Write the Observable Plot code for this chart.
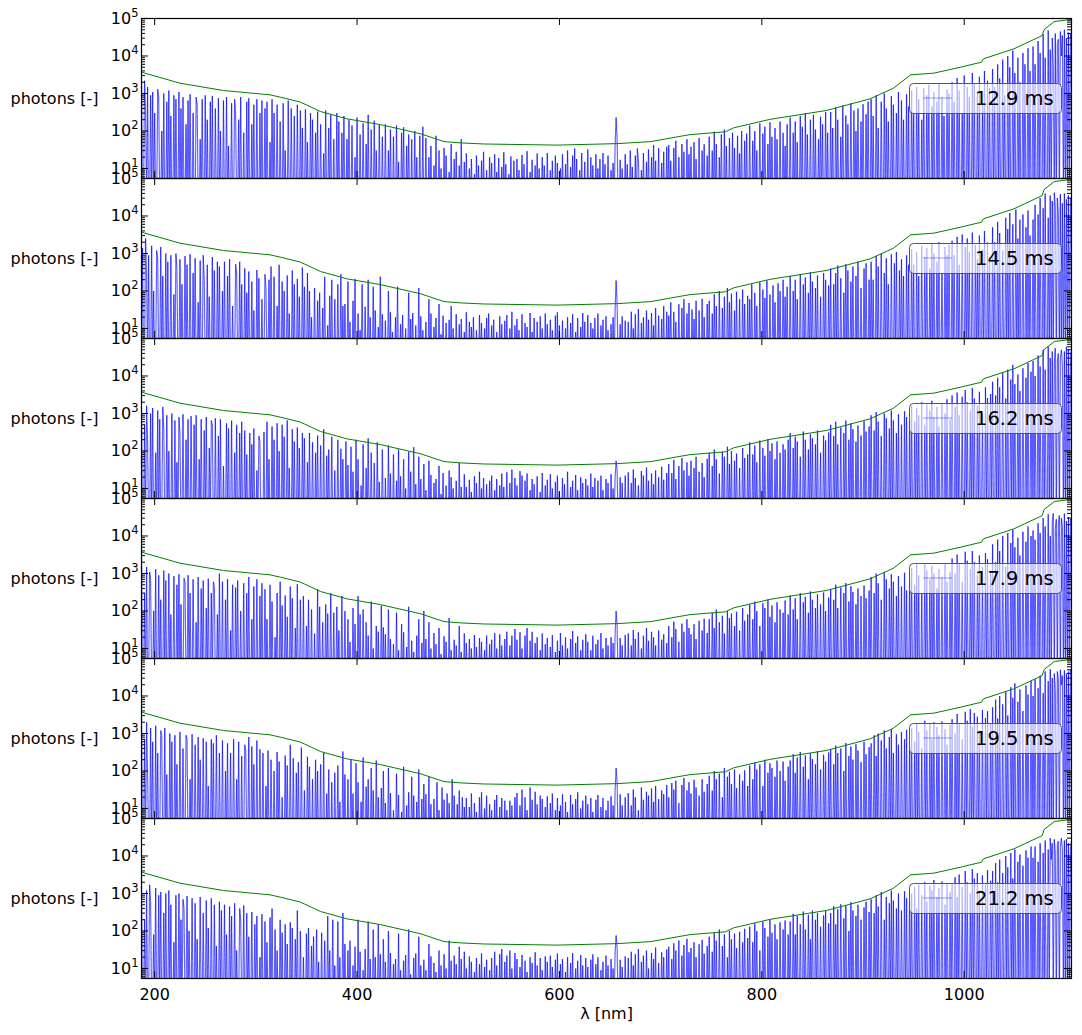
<!DOCTYPE html>
<html><head><meta charset="utf-8">
<script src="https://cdn.jsdelivr.net/npm/d3@7"></script>
<script src="https://cdn.jsdelivr.net/npm/@observablehq/plot@0.6"></script>
<style>
body{margin:0;background:#fff;}
#chart{position:relative;width:1082px;height:1035px;font-family:"DejaVu Sans";}
#chart svg{position:absolute;left:0;overflow:visible;}
</style></head><body><div id="chart"></div>
<script>
// exposure time of each panel (legend labels)
const exposures = ["12.9 ms","14.5 ms","16.2 ms","17.9 ms","19.5 ms","21.2 ms"];
// wavelength grid of the spectra (nm): 187, 188, ... 1106
const lambdaStart = 187, lambdaStep = 1;
// photon counts (0 = at / below the bottom of the axis)
const photons129 = [
2000,0,0,2200,400,0,1500,0,0,900,0,1100,0,300,0,0,1300,800,0,0,100,0,1000,0,0,600,0,1200,0,250,0,0,900,0,700,0,0,1100,0,400,
0,800,0,0,150,0,650,0,950,0,0,300,0,0,800,500,0,0,60,0,700,0,0,900,0,200,0,0,600,0,850,0,0,400,0,0,750,0,100,0,
0,650,0,0,800,0,40,0,0,550,0,0,700,300,0,0,200,0,800,0,0,90,0,0,600,0,750,0,0,150,0,500,0,0,700,0,0,300,0,650,
0,0,400,0,600,0,0,50,0,700,0,300,0,0,500,0,0,180,0,0,550,0,30,0,0,650,0,0,400,0,0,250,0,0,500,0,0,350,0,120,
0,0,380,0,50,0,0,300,0,200,0,0,90,0,330,0,0,150,0,0,25,0,350,0,0,120,0,270,0,0,60,0,0,300,0,180,0,0,90,0,
250,0,0,60,0,200,0,0,140,0,0,20,0,230,0,0,80,0,0,160,0,0,45,0,270,0,0,110,0,0,190,0,30,0,0,150,0,0,70,0,
0,150,0,0,30,0,110,0,0,70,0,0,140,0,15,0,0,90,0,125,0,0,40,0,80,0,0,60,0,0,100,0,20,0,0,75,0,0,130,0,
0,65,0,0,20,0,40,0,0,12,0,75,0,0,30,0,10,0,0,35,0,22,0,0,8,0,45,0,0,18,0,28,0,0,12,0,60,0,0,15,
0,25,0,0,10,0,18,0,0,7,0,22,0,12,0,0,16,0,28,0,0,9,0,0,20,0,14,0,0,24,0,8,0,19,0,0,11,0,27,0,
13,0,0,7,0,21,0,0,16,0,0,18,0,9,0,0,23,0,13,0,0,29,0,0,8,0,17,0,0,12,0,25,0,10,0,0,20,0,12,0,
0,26,0,0,9,0,16,0,0,22,0,14,0,0,10,0,24,0,0,13,0,30,0,0,11,0,22,0,34,0,18,0,0,9,0,26,0,0,15,0,
0,32,0,0,20,0,12,0,0,24,0,10,0,18,0,0,26,0,13,0,0,22,0,0,9,0,14,0,40,230,60,0,0,17,0,10,0,0,24,0,
13,0,0,30,0,11,0,0,22,0,34,18,0,0,9,0,26,0,0,15,0,32,0,0,20,0,42,0,16,0,0,35,0,0,14,0,28,0,0,38,
0,42,0,16,0,0,35,0,55,0,0,20,0,0,45,0,28,0,0,60,0,24,0,38,0,0,50,0,18,0,0,65,0,0,30,0,44,0,0,22,
0,70,0,0,30,0,95,0,45,0,0,20,0,80,0,0,110,0,40,0,0,65,0,0,90,0,35,0,0,75,0,25,0,100,0,0,55,0,85,0,
0,140,0,0,55,0,100,0,30,0,0,160,0,0,85,0,130,0,0,45,0,170,0,70,0,0,120,0,60,0,0,180,0,0,90,0,40,0,150,0,
0,230,0,0,90,0,180,0,50,0,0,250,0,130,0,0,300,0,80,0,0,200,0,0,270,0,110,0,0,60,0,240,0,150,0,0,320,0,90,0,
0,320,0,120,0,0,420,0,200,0,0,70,0,480,0,0,260,0,150,0,0,550,0,0,350,0,100,0,400,0,0,180,0,520,0,0,280,0,600,0,
0,700,0,250,0,0,900,0,120,0,0,600,0,0,1000,0,400,0,180,0,0,850,0,500,0,0,300,0,1100,0,0,650,0,200,0,0,950,0,450,0,
0,1200,0,300,0,0,1500,0,700,0,0,200,0,1400,0,0,900,0,1700,0,0,450,0,1100,0,0,600,0,1900,0,0,800,0,250,0,0,1300,0,1000,0,
0,2000,0,600,0,0,2600,0,1200,0,0,300,0,3000,0,0,1500,0,800,0,0,3500,0,1800,0,0,1000,0,2800,0,0,500,0,4000,0,0,2200,0,1400,0,
0,4500,0,1500,0,0,6000,0,2500,0,0,8000,0,900,0,0,10000,0,5000,0,0,14000,0,3500,0,0,9000,0,2000,0,0,12000,0,6000,0,0,16000,0,4000,0,
0,18000,0,6000,0,0,25000,0,12000,0,0,38000,0,9000,0,0,48000,0,15000,0,30000,5000,0,40000,0,20000,28000,0,45000,10000,35000,0,50000,0,30000,0,42000,0,38000,30000];
const photons145 = [
0,1400,0,0,2500,300,0,900,0,0,1600,0,100,0,0,1200,700,0,0,1500,0,250,0,0,1000,0,600,0,0,900,0,0,80,0,1000,400,0,0,700,0,
150,0,0,850,0,500,0,0,950,0,0,300,0,750,0,0,50,0,650,0,0,900,200,0,0,500,0,70,0,0,800,0,350,0,0,600,0,450,0,0,
100,0,600,0,0,250,0,700,0,0,40,0,0,520,300,0,0,600,0,150,0,0,400,0,90,0,330,0,0,180,0,30,0,0,360,0,220,0,0,60,
0,0,280,120,0,0,200,0,450,0,0,240,0,0,40,0,500,0,0,180,0,100,0,0,260,0,25,0,0,350,0,150,0,0,210,0,70,0,0,420,
0,130,0,0,300,0,100,0,20,0,0,120,0,0,55,0,90,0,0,35,0,240,0,0,12,0,75,0,200,0,0,60,0,0,150,0,0,280,0,40,
0,45,0,0,180,0,15,0,0,55,0,210,0,0,25,0,9,0,150,0,0,38,0,0,200,0,20,0,0,130,0,30,0,0,11,0,240,0,24,0,
0,16,0,0,100,0,27,0,8,0,0,20,0,130,0,0,13,0,23,0,0,10,0,0,90,0,18,0,26,0,0,12,0,0,120,0,21,0,9,0,
0,15,0,0,60,0,25,0,0,11,0,19,0,0,45,0,7,0,22,0,0,14,0,0,17,0,40,0,10,0,0,24,0,0,13,0,18,0,0,8,
0,27,0,0,15,0,11,0,20,0,0,9,0,0,23,0,14,0,0,10,0,19,0,25,0,0,12,0,17,0,0,8,0,0,21,0,13,0,0,16,
0,23,0,0,10,0,28,0,0,12,0,18,0,9,0,0,24,0,0,14,0,11,0,0,26,0,8,0,19,0,0,15,0,0,21,0,10,0,0,25,
0,13,0,0,17,0,9,0,0,22,0,27,0,12,0,0,16,0,0,10,0,20,0,0,14,0,24,0,0,8,0,19,0,0,11,0,26,0,15,0,
0,23,0,0,14,0,10,0,19,0,0,25,0,0,12,0,17,0,0,21,0,9,0,0,13,0,20,0,30,190,45,0,0,13,0,21,0,0,16,0,
0,15,0,0,28,0,10,0,24,0,0,33,0,0,14,0,20,0,0,30,0,17,0,0,26,0,12,0,35,0,0,22,0,0,18,0,40,0,0,28,
0,22,0,50,0,0,28,0,15,0,0,44,0,0,35,0,60,0,0,25,0,48,0,0,32,0,18,0,55,0,0,30,0,0,62,0,20,0,0,45,
0,55,0,0,25,0,80,0,40,0,0,100,0,0,35,0,70,0,0,120,0,50,0,85,0,0,30,0,95,0,0,60,0,0,110,0,45,0,0,75,
0,60,0,150,0,0,90,0,40,0,0,170,0,0,110,0,65,0,190,0,0,80,0,0,140,0,50,0,0,160,0,100,0,0,200,0,70,0,130,0,
0,250,0,0,100,0,200,0,60,0,0,280,0,0,150,0,230,0,0,90,0,320,0,180,0,0,120,0,260,0,0,70,0,0,300,0,200,0,0,140,
0,400,0,0,150,0,300,0,480,0,0,220,0,0,90,0,520,0,350,0,0,180,0,450,0,0,250,0,600,0,0,120,0,0,400,0,550,0,0,200,
0,600,0,200,0,0,850,0,450,0,0,1000,0,0,300,0,750,0,150,0,0,950,0,0,550,0,1100,0,0,350,0,700,0,250,0,0,900,0,500,0,
0,1300,0,500,0,0,1100,0,250,0,0,1600,0,0,800,0,1400,0,0,400,0,1800,0,1000,0,0,600,0,2000,0,0,300,0,0,1500,0,900,0,1700,0,
0,2200,0,900,0,0,2800,0,500,0,0,3200,0,0,1500,0,2500,0,1100,0,0,3600,0,0,1700,0,700,0,3000,0,0,1300,0,4000,0,0,2000,0,800,0,
0,5000,0,2000,0,0,7000,0,3500,0,0,1200,0,0,9000,0,4500,0,12000,0,0,6000,0,0,15000,0,2500,0,8000,0,0,11000,0,0,5000,0,14000,0,3000,0,
0,8000,0,20000,0,0,11000,0,30000,0,0,16000,0,40000,0,0,9000,0,35000,0,25000,0,42000,18000,0,30000,12000,0,38000,0,22000,0,40000,0,28000,0,35000,0,30000,26000];
const photons162 = [
1300,0,0,500,0,1600,200,0,0,1000,0,1400,0,0,90,0,1200,0,700,0,0,1500,400,0,0,900,0,100,0,0,1000,0,0,650,0,50,0,800,300,0,
0,950,0,0,200,0,700,0,0,850,0,0,500,0,900,0,0,60,0,700,0,0,350,0,800,0,0,120,0,650,500,0,0,750,0,0,250,0,700,0,
0,40,0,0,550,0,400,0,0,650,0,0,90,0,500,0,0,300,0,600,0,0,350,0,80,0,0,300,0,150,0,400,0,0,30,0,250,180,0,0,
0,320,0,0,600,0,60,0,0,450,0,200,0,0,550,0,100,0,0,500,0,240,0,0,650,0,35,0,0,380,0,180,0,0,420,0,120,0,0,300,
0,220,0,0,50,0,300,0,0,170,0,0,90,0,260,0,0,140,0,0,380,0,0,75,0,110,0,0,240,0,0,30,0,0,200,0,0,115,0,60,
0,0,180,0,42,0,0,130,0,28,0,0,200,0,60,0,0,12,0,150,0,0,35,0,220,0,0,90,0,0,48,0,0,170,0,15,0,0,110,0,
0,19,0,0,140,0,25,0,0,80,0,0,16,0,110,0,21,0,0,60,0,10,0,0,95,0,28,0,0,125,0,13,0,0,70,0,18,0,0,45,
0,9,0,0,55,0,23,0,0,14,0,18,0,0,40,0,7,0,26,0,0,12,0,0,30,0,20,0,10,0,0,16,0,0,48,0,11,0,0,24,
0,11,0,0,17,0,8,0,0,21,0,14,0,0,28,0,10,0,19,0,0,13,0,0,16,0,22,0,0,9,0,18,0,0,12,0,25,0,11,0,
0,27,0,0,14,0,32,0,0,19,0,12,0,0,29,0,22,0,0,16,0,25,0,0,9,0,18,0,13,0,0,21,0,0,8,0,26,0,0,12,
0,17,0,0,24,0,10,0,0,15,0,22,0,8,0,0,19,0,13,0,0,28,0,0,11,0,16,0,0,23,0,9,0,0,20,0,14,0,0,18,
0,12,0,0,25,0,11,0,19,0,0,16,0,0,22,0,9,0,0,18,0,14,0,0,24,0,10,0,20,55,30,0,0,20,0,14,0,0,22,0,
0,27,0,0,14,0,32,0,19,0,0,12,0,0,29,0,22,0,0,36,0,16,0,0,25,0,13,0,30,0,0,20,0,0,38,0,17,0,0,26,
0,45,0,0,26,0,58,0,18,0,0,40,0,0,65,0,30,0,0,50,0,22,0,55,0,0,35,0,70,0,0,28,0,0,48,0,20,0,0,62,
0,90,0,0,40,0,110,0,60,0,0,25,0,0,95,0,70,0,0,130,0,45,0,100,0,0,55,0,85,0,0,35,0,0,120,0,65,0,0,80,
0,170,0,0,80,0,140,0,50,0,0,190,0,0,120,0,75,0,0,210,0,100,0,160,0,0,60,0,180,0,0,90,0,0,150,0,110,0,0,200,
0,300,0,0,120,0,240,0,180,0,0,70,0,0,330,0,200,0,0,110,0,280,0,220,0,0,150,0,350,0,0,90,0,0,260,0,190,0,0,310,
0,500,0,0,250,0,600,0,150,0,0,420,0,0,300,0,650,0,0,200,0,550,0,380,0,0,180,0,480,0,0,260,0,0,620,0,330,0,0,450,
0,900,0,0,350,0,1100,0,600,0,0,250,0,0,1000,0,750,0,0,400,0,1200,0,650,0,0,300,0,950,0,0,500,0,0,1150,0,800,0,0,700,
0,1600,0,0,600,0,1400,0,900,0,0,2000,0,0,500,0,1700,0,0,1200,0,2200,0,800,0,0,1500,0,450,0,0,1900,0,0,1000,0,2400,0,0,700,
0,3000,0,0,1500,0,3600,0,900,0,0,2800,0,0,4200,0,2000,0,0,1200,0,4800,0,2500,0,0,1600,0,3800,0,0,1000,0,0,5000,0,2600,0,0,3300,
0,7000,0,0,3000,0,9000,0,5000,0,0,12000,0,0,2500,0,15000,0,0,8000,0,20000,0,6000,0,0,11000,0,4000,0,0,16000,0,0,9000,0,22000,0,0,13000,
0,25000,0,10000,0,0,35000,0,18000,0,0,50000,0,15000,0,0,60000,0,30000,0,45000,0,20000,55000,0,25000,40000,0,30000,50000,20000,0,45000,0,60000,0,50000,0,40000,45000];
const photons179 = [
4800,0,0,300,0,1500,0,0,1100,700,0,0,100,0,1300,0,0,900,0,200,0,0,1200,0,650,0,0,1000,0,80,0,0,850,0,0,500,0,950,0,150,
0,0,750,600,0,0,900,0,300,0,0,700,0,0,50,0,800,0,0,400,0,650,0,0,120,0,720,0,0,300,0,600,450,0,0,80,0,1000,0,0,
600,0,0,200,0,700,0,0,30,0,500,0,0,420,0,650,0,0,100,0,0,550,0,0,300,0,800,0,0,60,0,450,0,0,700,0,0,250,0,550,
0,0,380,0,60,0,0,500,0,180,0,0,20,0,300,0,0,600,0,140,0,0,260,0,70,0,0,450,0,220,0,0,35,0,520,0,0,200,0,0,
250,0,0,40,0,200,0,0,110,0,0,25,0,0,380,0,130,0,0,50,0,0,150,0,85,0,0,300,0,0,90,0,0,130,0,30,0,0,250,0,
0,100,0,0,60,0,15,0,0,120,0,45,0,0,250,0,80,0,0,110,0,0,50,0,22,0,0,180,0,10,0,0,40,0,28,0,0,140,0,36,
0,24,0,0,110,0,18,0,0,13,0,0,90,0,9,0,0,45,0,27,0,0,11,0,130,0,0,16,0,8,0,0,22,0,60,0,0,14,0,100,
0,18,0,0,50,0,10,0,0,26,0,13,0,0,35,0,7,0,0,21,0,15,0,0,65,0,9,0,0,17,0,12,0,0,40,0,8,0,0,25,
0,14,0,0,18,0,10,0,0,23,0,11,0,0,19,0,15,0,0,9,0,22,0,0,13,0,17,0,0,26,0,10,0,0,24,0,12,0,0,18,
0,28,0,0,12,0,22,0,0,33,0,17,0,0,27,0,10,0,0,22,0,35,0,0,16,0,28,0,0,14,0,20,0,0,9,0,25,0,0,13,
0,19,0,0,11,0,23,0,0,8,0,16,0,0,26,0,12,0,0,20,0,10,0,0,18,0,29,0,0,14,0,21,0,0,9,0,17,0,0,24,
0,15,0,0,9,0,22,0,0,13,0,17,0,0,26,0,10,0,0,19,0,12,0,0,20,0,14,0,25,100,40,0,0,19,0,12,0,0,23,0,
0,25,0,0,12,0,31,0,18,0,0,27,0,0,10,0,22,0,0,35,0,16,0,0,28,0,20,0,12,0,0,30,0,0,17,0,24,0,0,14,
0,40,0,0,20,0,52,0,33,0,0,15,0,0,46,0,28,0,0,60,0,35,0,24,0,0,44,0,18,0,0,55,0,0,30,0,62,0,0,26,
0,60,0,0,90,0,35,0,110,0,0,50,0,0,75,0,25,0,0,100,0,65,0,85,0,0,40,0,95,0,0,30,0,0,120,0,55,0,0,80,
0,150,0,0,60,0,180,0,100,0,0,40,0,0,160,0,120,0,0,200,0,70,0,140,0,0,50,0,170,0,0,110,0,0,90,0,190,0,0,80,
0,260,0,0,110,0,220,0,60,0,0,300,0,0,170,0,240,0,0,90,0,330,0,200,0,0,120,0,280,0,0,150,0,0,310,0,100,0,0,230,
0,380,0,0,200,0,500,0,120,0,0,420,0,0,300,0,560,0,0,180,0,460,0,320,0,0,150,0,400,0,0,250,0,0,480,0,220,0,0,350,
0,800,0,0,300,0,1000,0,550,0,0,200,0,0,1100,0,700,0,0,400,0,950,0,600,0,0,250,0,850,0,0,450,0,0,1050,0,350,0,0,750,
0,1400,0,0,500,0,1700,0,900,0,0,300,0,0,1900,0,1200,0,0,700,0,1600,0,1000,0,0,400,0,1300,0,0,800,0,0,1800,0,600,0,0,1100,
0,2500,0,0,1000,0,3200,0,1800,0,0,600,0,0,3800,0,2200,0,0,1300,0,4000,0,2000,0,0,900,0,3000,0,0,1500,0,0,3500,0,2400,0,0,1100,
0,6000,0,0,2000,0,8000,0,4000,0,0,10000,0,0,1500,0,12000,0,0,6500,0,15000,0,5000,0,0,9000,0,3000,0,0,13000,0,0,7000,0,18000,0,0,10000,
0,14000,0,8000,0,0,22000,0,12000,0,0,30000,0,18000,0,0,38000,0,10000,0,24000,40000,0,15000,28000,0,20000,35000,0,30000,18000,0,40000,0,25000,0,32000,0,28000,22000];
const photons195 = [
3200,0,0,700,0,2000,100,0,0,1400,0,600,0,0,1600,0,300,0,0,1200,900,0,0,1400,0,80,0,0,1000,0,600,0,0,900,0,150,0,0,1100,0,
0,400,0,0,900,700,0,0,60,0,950,0,0,500,0,0,800,0,200,0,0,750,0,0,600,0,40,0,0,700,0,550,0,0,900,0,0,300,0,0,
650,0,0,100,0,550,0,0,300,0,0,700,0,0,60,0,600,0,0,250,0,0,500,350,0,0,800,0,0,450,0,150,0,0,650,0,0,380,0,0,
300,0,0,40,0,350,0,0,200,0,0,100,0,0,320,0,180,0,0,20,0,0,260,0,140,0,0,500,0,0,220,0,0,90,0,170,0,0,420,0,
0,30,0,0,240,0,130,0,0,60,0,0,200,0,100,0,0,150,0,0,300,0,0,25,0,110,0,0,50,0,0,90,0,0,140,0,15,0,0,330,
0,80,0,0,60,0,0,200,0,25,0,0,160,0,50,0,0,15,0,230,0,0,38,0,60,0,0,120,0,30,0,0,190,0,20,0,0,35,0,100,
0,14,0,0,120,0,26,0,0,9,0,0,85,0,23,0,0,8,0,130,0,0,12,0,27,0,0,70,0,22,0,0,15,0,110,0,0,18,0,45,
0,24,0,0,70,0,13,0,0,18,0,0,50,0,9,0,0,36,0,17,0,0,25,0,14,0,0,60,0,22,0,0,13,0,30,0,0,20,0,11,
0,19,0,0,11,0,25,0,0,14,0,8,0,0,20,0,27,0,0,10,0,22,0,0,13,0,9,0,0,17,0,23,0,0,11,0,19,0,0,16,
0,9,0,0,16,0,12,0,0,20,0,26,0,0,12,0,32,0,0,20,0,9,0,0,36,0,17,0,0,28,0,13,0,0,22,0,18,0,0,11,
0,21,0,0,14,0,25,0,0,9,0,19,0,0,12,0,24,0,0,15,0,8,0,0,23,0,13,0,0,18,0,27,0,0,10,0,16,0,0,22,
0,13,0,0,19,0,8,0,0,17,0,23,0,0,11,0,19,0,0,9,0,16,0,0,21,0,12,0,30,120,50,0,0,24,0,12,0,0,20,0,
0,26,0,0,12,0,32,0,20,0,0,9,0,0,36,0,17,0,0,28,0,22,0,0,34,0,15,0,40,0,0,18,0,0,30,0,24,0,0,42,
0,20,0,0,48,0,32,0,55,0,0,14,0,0,42,0,65,0,0,30,0,50,0,25,0,0,58,0,36,0,0,22,0,0,60,0,28,0,0,45,
0,75,0,0,30,0,100,0,60,0,0,85,0,0,20,0,120,0,0,70,0,95,0,45,0,0,110,0,35,0,0,80,0,0,55,0,105,0,0,40,
0,140,0,0,60,0,170,0,110,0,0,150,0,0,40,0,200,0,0,90,0,160,0,120,0,0,70,0,190,0,0,100,0,0,180,0,55,0,0,130,
0,190,0,0,280,0,90,0,230,0,0,320,0,0,130,0,260,0,0,60,0,300,0,210,0,0,150,0,340,0,0,110,0,0,270,0,180,0,0,310,
0,380,0,0,150,0,480,0,300,0,0,400,0,0,100,0,560,0,0,250,0,450,0,200,0,0,520,0,350,0,0,170,0,0,600,0,280,0,0,430,
0,550,0,0,900,0,250,0,1000,0,0,650,0,0,1200,0,400,0,0,800,0,1300,0,300,0,0,950,0,500,0,0,1100,0,0,700,0,1250,0,0,450,
0,1400,0,0,600,0,1800,0,1100,0,0,400,0,0,2200,0,1200,0,0,1900,0,700,0,2000,0,0,1500,0,900,0,0,2100,0,0,1300,0,500,0,0,1700,
0,2400,0,0,1000,0,3300,0,1900,0,0,700,0,0,3800,0,2200,0,0,4500,0,1500,0,3500,0,0,2800,0,1200,0,0,4200,0,0,2600,0,3900,0,0,1800,
0,5000,0,0,8000,0,2500,0,10000,0,0,6000,0,0,13000,0,3000,0,0,17000,0,9000,0,22000,0,0,7000,0,15000,0,0,4000,0,0,19000,0,11000,0,0,25000,
0,10000,0,28000,0,0,16000,0,35000,0,0,12000,0,45000,0,0,25000,0,52000,0,30000,0,40000,15000,0,45000,28000,0,50000,20000,35000,0,48000,0,40000,0,45000,0,50000,38000];
const photons212 = [
1900,0,0,200,0,1200,0,0,1700,600,0,0,80,0,1400,0,0,900,0,1100,0,0,300,0,1000,0,0,1200,0,500,0,0,50,0,900,0,0,1000,0,200,
0,700,400,0,0,850,0,100,0,0,750,0,0,550,0,60,0,0,800,0,0,300,0,0,650,0,120,0,0,750,0,0,500,0,40,0,0,600,0,350,
0,0,500,0,80,0,0,450,0,250,0,0,550,0,30,0,0,400,200,0,0,480,0,0,300,0,70,0,0,320,0,0,150,0,250,0,0,20,0,280,
0,0,180,0,50,0,0,230,0,400,0,0,110,0,30,0,0,200,0,90,0,0,150,0,45,0,0,170,0,120,0,0,60,0,350,0,0,100,0,0,
20,0,0,85,0,120,0,0,40,0,70,0,0,110,0,15,0,0,90,0,0,55,0,0,250,0,30,0,0,200,0,12,0,0,180,0,20,0,0,300,
0,45,0,0,30,0,55,0,0,12,0,38,0,0,200,0,28,0,0,9,0,33,0,0,180,0,18,0,0,110,0,20,0,0,150,0,24,0,0,60,
0,15,0,0,100,0,26,0,0,13,0,18,0,0,85,0,9,0,0,16,0,23,0,0,110,0,7,0,0,19,0,25,0,0,70,0,12,0,0,17,
0,9,0,0,45,0,21,0,0,14,0,8,0,0,30,0,12,0,0,24,0,10,0,0,55,0,16,0,0,22,0,13,0,0,38,0,18,0,0,28,
0,10,0,0,21,0,15,0,0,8,0,19,0,0,13,0,25,0,0,11,0,17,0,0,9,0,19,0,0,28,0,12,0,0,24,0,33,0,0,15,
0,22,0,0,30,0,10,0,0,26,0,18,0,0,11,0,23,0,0,16,0,8,0,0,20,0,14,0,0,27,0,12,0,0,19,0,9,0,0,21,
0,15,0,0,22,0,11,0,0,17,0,25,0,0,13,0,18,0,0,8,0,20,0,0,14,0,26,0,0,10,0,16,0,0,23,0,12,0,0,19,
0,11,0,0,17,0,24,0,0,13,0,20,0,0,9,0,15,0,0,22,0,12,0,0,18,0,10,0,26,76,35,0,0,17,0,11,0,0,21,0,
0,19,0,0,28,0,12,0,24,0,0,33,0,0,15,0,22,0,0,30,0,10,0,0,26,0,18,0,36,0,0,14,0,0,27,0,20,0,0,32,
0,38,0,0,18,0,47,0,30,0,0,56,0,0,22,0,42,0,0,62,0,27,0,35,0,0,50,0,20,0,0,44,0,0,58,0,25,0,0,40,
0,70,0,0,28,0,90,0,55,0,0,110,0,0,40,0,80,0,0,20,0,100,0,60,0,0,85,0,35,0,0,95,0,0,50,0,115,0,0,65,
0,130,0,0,50,0,160,0,100,0,0,30,0,0,180,0,120,0,0,70,0,200,0,90,0,0,150,0,60,0,0,170,0,0,110,0,190,0,0,80,
0,180,0,0,290,0,80,0,250,0,0,150,0,0,330,0,110,0,0,270,0,60,0,350,0,0,200,0,300,0,0,130,0,0,260,0,340,0,0,160,
0,300,0,0,460,0,150,0,380,0,0,520,0,0,220,0,470,0,0,100,0,580,0,350,0,0,250,0,500,0,0,200,0,0,420,0,600,0,0,320,
0,700,0,0,300,0,900,0,450,0,0,1100,0,0,200,0,800,0,0,550,0,1200,0,650,0,0,400,0,1000,0,0,350,0,0,1150,0,750,0,0,950,
0,1000,0,0,1500,0,400,0,1700,0,0,900,0,0,2000,0,600,0,0,1600,0,1200,0,2300,0,0,800,0,1400,0,0,2100,0,0,500,0,1800,0,0,1100,
0,1800,0,0,2700,0,800,0,3200,0,0,1500,0,0,4000,0,2000,0,0,1000,0,4500,0,2500,0,0,3500,0,1200,0,0,3000,0,0,1700,0,4200,0,0,2200,
0,4000,0,0,6500,0,2000,0,8000,0,0,3500,0,0,10000,0,5000,0,0,12000,0,2500,0,15000,0,0,7000,0,11000,0,0,5500,0,0,14000,0,9000,0,0,18000,
0,9000,0,18000,0,0,7000,0,22000,0,0,12000,0,26000,0,0,15000,0,30000,8000,22000,0,28000,12000,0,20000,25000,0,18000,30000,15000,0,26000,0,28000,0,22000,0,18000,25000];
const spectra = [photons129, photons145, photons162, photons179, photons195, photons212];
// green threshold curve (same in every panel)
const thresholdNm = [187,225,268,314,324,344,364,390,423,463,486,503,525,598,657,690,729,764,772,808,864,907,930,947,970,996,1017,1019,1049,1077,1079,1089,1102,1106];
const thresholdPhotons = [3700,1880,1200,920,800,590,330,211,148,84,52,48,45,42,46,52,80,95,121,204,353,720,1380,3150,3490,5000,6840,8400,15500,35000,51000,83000,92000,93000];
// axes
const yTicks = [10,100,1000,10000,100000];
const xTicks = [200,400,600,800,1000];
const xDomain = [187,1106];
const yDomain = [5.4,100000];

const supChars = ["⁰","¹","²","³","⁴","⁵"];
const fmtPow = d => "10" + supChars[Math.round(Math.log10(d))];
const minorTicks = [];
for (let e = 0; e <= 4; e++) for (let m = 2; m <= 9; m++) { const v = m * 10 ** e; if (v >= yDomain[0] && v <= yDomain[1]) minorTicks.push(v); }

const W = 1082, ML = 141, MR = 11, PH = 160, TOP = 18, MB = 57;
const IW = W - ML - MR;
const threshold = thresholdNm.map((x, i) => ({x, y: thresholdPhotons[i]}));
const chart = document.getElementById("chart");

spectra.forEach((values, k) => {
  const last = k === spectra.length - 1;
  const lam = values.map((_, i) => lambdaStart + lambdaStep * i);
  const segs = d3.pairs(d3.range(values.length)).map(([a, b]) => ({x1: lam[a], y1: values[a], x2: lam[b], y2: values[b]}));
  const floor = v => v > 0 ? v : 1;
  const marks = [
    Plot.link(segs, {x1: "x1", x2: "x2", y1: d => floor(d.y1), y2: d => floor(d.y2), curve: "linear", stroke: "#0000ff", strokeOpacity: 0.62, strokeWidth: 1.15, clip: true}),
    Plot.line(threshold, {x: "x", y: "y", stroke: "#008000", strokeWidth: 1, clip: true}),
    Plot.ruleX(xTicks, {insetBottom: PH - 7, stroke: "black"}),
    Plot.ruleX(xTicks, {insetTop: PH - 7, stroke: "black"}),
    Plot.ruleY(yTicks, {insetRight: IW - 7, stroke: "black"}),
    Plot.ruleY(yTicks, {insetLeft: IW - 7, stroke: "black"}),
    Plot.ruleY(minorTicks, {insetRight: IW - 4, stroke: "black"}),
    Plot.ruleY(minorTicks, {insetLeft: IW - 4, stroke: "black"}),
    Plot.frame({stroke: "black", strokeWidth: 1.2}),
    Plot.axisY({ticks: yTicks, tickFormat: fmtPow, tickSize: 0, tickPadding: 9, label: null, fontSize: 16}),
    Plot.text(["photons [-]"], {text: d => d, frameAnchor: "left", dx: -131, textAnchor: "start", fontSize: 16})
  ];
  if (last) {
    marks.push(Plot.axisX({ticks: xTicks, tickFormat: d => String(d), tickSize: 0, tickPadding: 10, label: null, fontSize: 16}));
    marks.push(Plot.text(["λ [nm]"], {text: d => d, frameAnchor: "bottom", dy: 40, fontSize: 16}));
  }
  const svg = Plot.plot({
    width: W, height: PH + (last ? MB : 0),
    marginLeft: ML, marginRight: MR, marginTop: 0, marginBottom: last ? MB : 0,
    x: {domain: xDomain, axis: last ? undefined : null, label: null},
    y: {type: "log", domain: yDomain, label: null},
    style: {fontFamily: "DejaVu Sans", fontSize: "16px", background: "transparent", overflow: "visible", color: "black"},
    marks
  });
  svg.style.top = (TOP + PH * k) + "px";
  // matplotlib-like superscript exponents on the y tick labels
  svg.querySelectorAll('[aria-label="y-axis tick label"] text').forEach(t => {
    const s = t.textContent;
    const e = supChars.indexOf(s.slice(2));
    if (s.startsWith("10") && e >= 0) {
      t.textContent = "10";
      const ts = document.createElementNS("http://www.w3.org/2000/svg", "tspan");
      ts.setAttribute("dy", "-7");
      ts.setAttribute("font-size", "11.5");
      ts.textContent = String(e);
      t.appendChild(ts);
      t.setAttribute("dx", (+(t.getAttribute("dx")) || 0) + 6);
    }
  });
  // legend box
  const g = d3.select(svg).append("g").attr("text-anchor", "start");
  g.append("rect").attr("x", 909.5).attr("y", 65.5).attr("width", 152).attr("height", 30).attr("rx", 4)
    .attr("fill", "white").attr("fill-opacity", 0.65).attr("stroke", "#555").attr("stroke-width", 1);
  g.append("line").attr("x1", 923).attr("x2", 952).attr("y1", 80).attr("y2", 80)
    .attr("stroke", "#0000ff").attr("stroke-opacity", 0.4).attr("stroke-width", 1);
  g.append("text").attr("x", 975).attr("y", 80).attr("dy", "0.35em").attr("font-size", 19.5)
    .attr("font-family", "DejaVu Sans").attr("fill", "black").attr("text-anchor", "start").text(exposures[k]);
  chart.appendChild(svg);
});
</script></body></html>
